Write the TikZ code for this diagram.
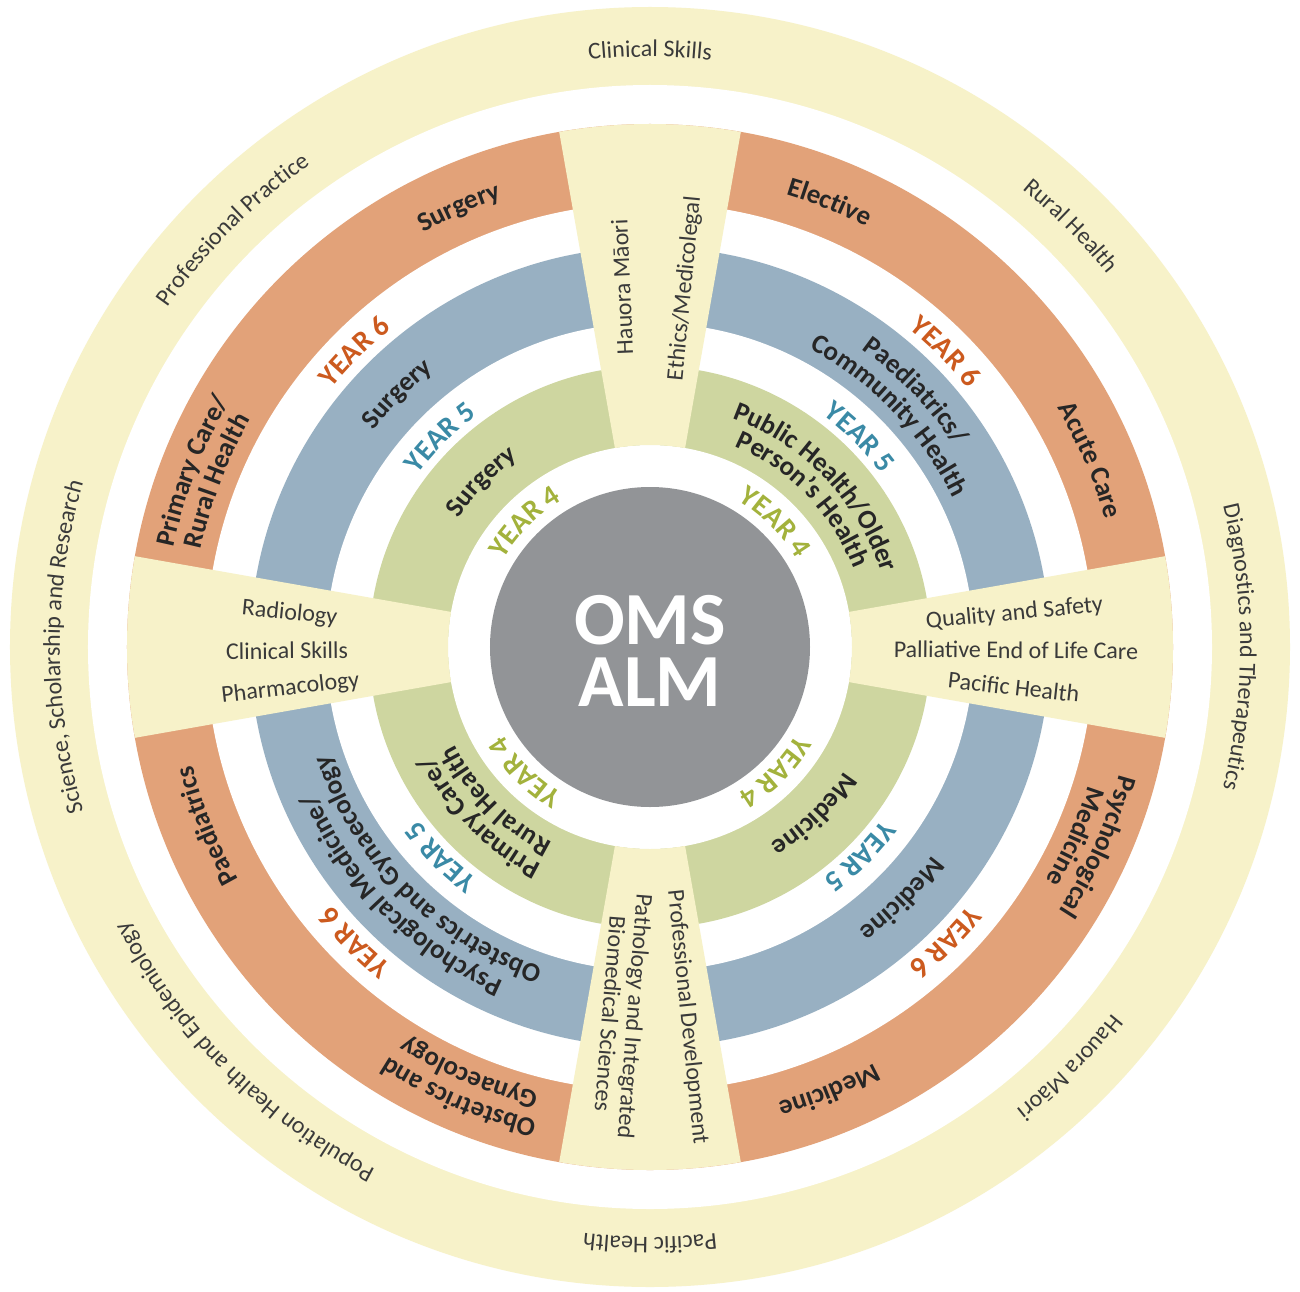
\documentclass[tikz,border=0pt]{standalone}
\usepackage{fontspec}
\setmainfont{Carlito}
\usetikzlibrary{decorations.text}

\definecolor{paleyellow}{HTML}{F7F2C9}
\definecolor{ringsix}{HTML}{E2A279}
\definecolor{ringfive}{HTML}{98B0C2}
\definecolor{ringfour}{HTML}{CED6A0}
\definecolor{hubgrey}{HTML}{929497}
\definecolor{yearsix}{HTML}{CC5A1E}
\definecolor{yearfive}{HTML}{3A8AA6}
\definecolor{yearfour}{HTML}{A3B23C}
\definecolor{labelink}{HTML}{262626}
\definecolor{thinink}{HTML}{3A3A3A}

% text formats
\newcommand\subjfmt{\fontsize{27}{27}\selectfont\bfseries\color{labelink}}
\newcommand\thinfmt{\fontsize{24}{24}\selectfont\color{thinink}}
\newcommand\yrsixfmt{\fontsize{29}{29}\selectfont\bfseries\color{yearsix}}
\newcommand\yrfivefmt{\fontsize{29}{29}\selectfont\bfseries\color{yearfive}}
\newcommand\yrfourfmt{\fontsize{29}{29}\selectfont\bfseries\color{yearfour}}

% curved label: centre angle, baseline radius, format, text (clockwise, tops outward)
\newcommand\ringlabel[4]{%
  \path[decorate,decoration={text along path,text align=center,text={|#3|#4}}]
    ({#1+70}:#2) arc[start angle={#1+70}, end angle={#1-70}, radius=#2];}

% pale sector crossing the three year rings
\newcommand\wedgeband[1]{%
  \fill[paleyellow] ({#1-10}:202) arc[start angle={#1-10}, end angle={#1+10}, radius=202]
    -- ({#1+10}:523) arc[start angle={#1+10}, end angle={#1-10}, radius=523] -- cycle;}

\tikzset{
  wedgetext/.style={font=\fontsize{24}{25}\selectfont, text=thinink, inner sep=0pt,
    text height=16pt, text depth=0pt, anchor=center},
}

\begin{document}
\begin{tikzpicture}[x=1pt,y=1pt]
\useasboundingbox (-650,-644) rectangle (650,647);
\fill[white] (-650,-644) rectangle (650,647);

% concentric bands
\fill[paleyellow] (0,0) circle[radius=640];
\fill[white] (0,0) circle[radius=562];
\fill[ringsix] (0,0) circle[radius=523];
\fill[white] (0,0) circle[radius=444];
\fill[ringfive] (0,0) circle[radius=400];
\fill[white] (0,0) circle[radius=324];
\fill[ringfour] (0,0) circle[radius=281];
\fill[white] (0,0) circle[radius=202];
\fill[hubgrey] (0,0) circle[radius=160];

% four cross sectors
\wedgeband{90}
\wedgeband{0}
\wedgeband{-90}
\wedgeband{180}

% hub
\node[font=\fontsize{75}{62}\selectfont\bfseries, text=white, align=center, inner sep=0pt]
  (hub) at (0,-4) {OMS\\ALM};

% outer ring themes
\ringlabel{90}{590}{\thinfmt}{Clinical Skills}
\ringlabel{45}{590}{\thinfmt}{Rural Health}
\ringlabel{0}{590}{\thinfmt}{Diagnostics and Therapeutics}
\ringlabel{-45}{590}{\thinfmt}{Hauora Māori}
\ringlabel{-90}{590}{\thinfmt}{Pacific Health}
\ringlabel{-135}{590}{\thinfmt}{Population Health and Epidemiology}
\ringlabel{180}{590}{\thinfmt}{Science, Scholarship and Research}
\ringlabel{135}{590}{\thinfmt}{Professional Practice}

% year 6 ring
\ringlabel{113.5}{472.5}{\subjfmt}{Surgery}
\ringlabel{159}{486.5}{\subjfmt}{Primary Care/}
\ringlabel{159}{459.5}{\subjfmt}{Rural Health}
\ringlabel{68}{472.5}{\subjfmt}{Elective}
\ringlabel{23}{472.5}{\subjfmt}{Acute Care}
\ringlabel{-24}{486.5}{\subjfmt}{Psychological}
\ringlabel{-24}{459.5}{\subjfmt}{Medicine}
\ringlabel{-68}{472.5}{\subjfmt}{Medicine}
\ringlabel{-113}{486.5}{\subjfmt}{Obstetrics and}
\ringlabel{-113}{459.5}{\subjfmt}{Gynaecology}
\ringlabel{-158}{472.5}{\subjfmt}{Paediatrics}

% year 5 ring
\ringlabel{135}{351}{\subjfmt}{Surgery}
\ringlabel{44}{365}{\subjfmt}{Paediatrics/}
\ringlabel{44}{338}{\subjfmt}{Community Health}
\ringlabel{-45}{351}{\subjfmt}{Medicine}
\ringlabel{-135}{365}{\subjfmt}{Psychological Medicine/}
\ringlabel{-135}{338}{\subjfmt}{Obstetrics and Gynaecology}

% year 4 ring
\ringlabel{135.5}{230.5}{\subjfmt}{Surgery}
\ringlabel{44}{243}{\subjfmt}{Public Health/Older}
\ringlabel{44}{218}{\subjfmt}{Person’s Health}
\ringlabel{-45.5}{230.5}{\subjfmt}{Medicine}
\ringlabel{-135}{243}{\subjfmt}{Primary Care/}
\ringlabel{-135}{218}{\subjfmt}{Rural Health}

% year markers in the white gaps
\foreach \a in {45,135,-45,-135}{
  \ringlabel{\a}{410}{\yrsixfmt}{YEAR 6}
  \ringlabel{\a}{289}{\yrfivefmt}{YEAR 5}
  \ringlabel{\a}{171}{\yrfourfmt}{YEAR 4}
}

% sector contents
\node[wedgetext, rotate=92.5] (hauora) at (94.4:361) {Hauora Māori};
\node[wedgetext, rotate=84.5] (ethics) at (84.7:360) {Ethics/Medicolegal};

\node[wedgetext, rotate=-5.6] (radiology) at (174.4:362) {Radiology};
\node[wedgetext, rotate=0.6] (clinskills) at (180.6:363) {Clinical Skills};
\node[wedgetext, rotate=6.4] (pharmacology) at (186.3:362) {Pharmacology};

\node[wedgetext, rotate=5.5] (quality) at (5.5:366) {Quality and Safety};
\node[wedgetext, rotate=-0.5] (palliative) at (-0.5:366) {Palliative End of Life Care};
\node[wedgetext, rotate=-6.3] (pacific) at (-6.3:366) {Pacific Health};

\node[wedgetext, rotate=-84.2] (profdev) at (-84:372) {Professional Development};
\node[font=\fontsize{24}{25}\selectfont, text=thinink, inner sep=0pt, align=center, rotate=-94.5]
  (pathology) at (-94.2:369) {Pathology and Integrated\\Biomedical Sciences};
\end{tikzpicture}
\end{document}
